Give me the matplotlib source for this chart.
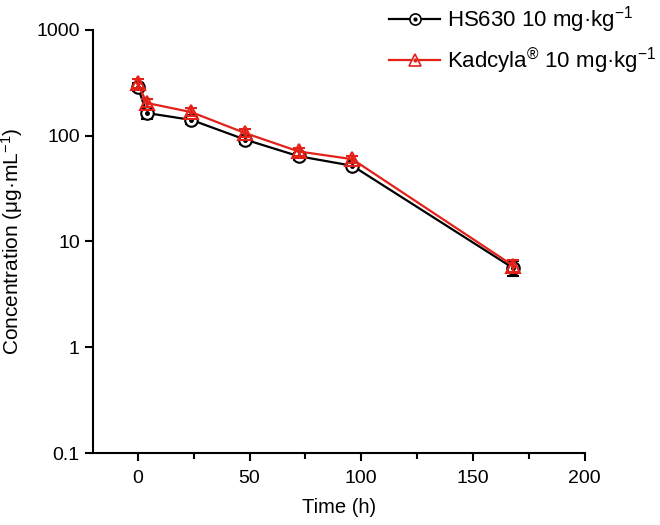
import numpy as np
import matplotlib.pyplot as plt
from matplotlib.lines import Line2D

plt.rcParams['font.family'] = ['Liberation Sans', 'DejaVu Sans']
plt.rcParams['mathtext.fontset'] = 'custom'
plt.rcParams['mathtext.rm'] = 'Liberation Sans'
plt.rcParams['mathtext.default'] = 'regular'

time_h = [0, 4, 24, 48, 72, 96, 168]
hs630 = [290, 164, 141, 92, 64, 52, 5.6]
hs630_err = [25, 20, 12, 8, 5, 4, 0.9]
kadcyla = [312, 204, 167, 106, 71, 60, 5.9]
kadcyla_err = [30, 18, 14, 9, 6, 5, 0.8]

black = 'black'
red = '#e32119'

fig = plt.figure(figsize=(6.6, 5.25), dpi=100)
ax = fig.add_axes([0.141, 0.137, 0.745, 0.806])

ax.errorbar(time_h, hs630, yerr=hs630_err, color=black, lw=1.6, marker='o', ms=9,
            mfc='white', mec=black, mew=1.5, capsize=4, elinewidth=1.5, zorder=3)
ax.plot(time_h, hs630, ls='none', marker='o', ms=2.5, color=black, zorder=4)
ax.errorbar(time_h, kadcyla, yerr=kadcyla_err, color=red, lw=1.6, marker='^', ms=10,
            mfc='none', mec=red, mew=1.5, capsize=4, elinewidth=1.5, zorder=5)
ax.plot(time_h, kadcyla, ls='none', marker='o', ms=2.5, color=red, zorder=6)

ax.set_yscale('log')
ax.set_ylim(0.1, 1000)
ax.set_xlim(-20, 200)
ax.set_yticks([0.1, 1, 10, 100, 1000])
ax.set_yticklabels(['0.1', '1', '10', '100', '1000'])
ax.yaxis.set_minor_locator(plt.NullLocator())
ax.set_xticks([0, 50, 100, 150, 200])
ax.set_xticks([25, 75, 125, 175], minor=True)

for s in ['top', 'right']:
    ax.spines[s].set_visible(False)
for s in ['left', 'bottom']:
    ax.spines[s].set_linewidth(1.5)
ax.tick_params(which='major', length=6, width=1.5, labelsize=14, direction='out')
ax.tick_params(axis='x', which='major', pad=6)
ax.tick_params(which='minor', length=4, width=1.5, direction='out')

ax.set_xlabel('Time (h)', fontsize=14.5, labelpad=8)
ax.set_ylabel('Concentration (μg·mL$^{-1}$)', fontsize=15, labelpad=8)

handles = [
    (Line2D([], [], color=black, lw=1.6, marker='o', ms=8, mfc='white', mec=black, mew=1.2),
     Line2D([], [], ls='none', marker='o', ms=2, color=black)),
    (Line2D([], [], color=red, lw=1.6, marker='^', ms=9, mfc='white', mec=red, mew=1.2),
     Line2D([], [], ls='none', marker='o', ms=2, color=red)),
]
labels = ['HS630 10 mg·kg$^{-1}$', 'Kadcyla$^{®}$ 10 mg·kg$^{-1}$']
fig.legend(handles, labels, loc='upper right', bbox_to_anchor=(1.025, 1.03), frameon=False,
           fontsize=16, handlelength=2.3, handletextpad=0.3, labelspacing=0.45)

fig.savefig('out.png', dpi=100)
